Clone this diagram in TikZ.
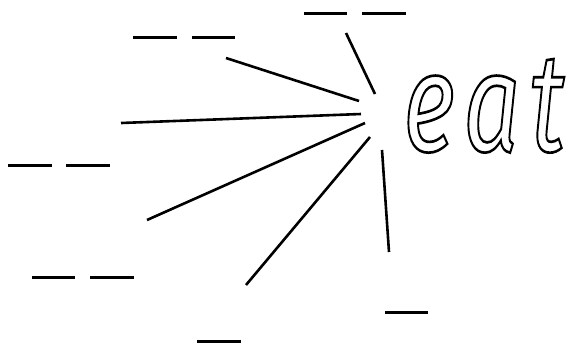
\documentclass[tikz,border=0pt]{standalone}
\usepackage{fontspec}
\newfontfamily\eatfont{Fira Sans}
\newcommand{\outlineon}{\special{pdf:code 1 Tr 1.9 w}}
\newcommand{\outlineoff}{\special{pdf:code 0 Tr}}
\tikzset{blank/.style={line width=3pt}, ray/.style={line width=2.6pt}}
\begin{document}
\begin{tikzpicture}[x=1pt,y=-1pt]
\useasboundingbox (0,0) rectangle (572,346);
% blanks
\draw[blank] (304,13) -- (347,13);
\draw[blank] (362,13) -- (406,13);
\draw[blank] (133,37) -- (177,37);
\draw[blank] (192,37) -- (235,37);
\draw[blank] (8,165) -- (52,165);
\draw[blank] (66,165) -- (110,165);
\draw[blank] (32,277) -- (75,277);
\draw[blank] (90,277) -- (134,277);
\draw[blank] (197,341) -- (241,341);
\draw[blank] (385,312) -- (428,312);
% rays
\coordinate (a1) at (346,33);  \coordinate (b1) at (375,94);
\coordinate (a2) at (226,58);  \coordinate (b2) at (359,101);
\coordinate (a3) at (121,123); \coordinate (b3) at (361,114);
\coordinate (a4) at (147,220); \coordinate (b4) at (365,123);
\coordinate (a5) at (246,285); \coordinate (b5) at (370,137);
\coordinate (a6) at (389,252); \coordinate (b6) at (382,150);
\foreach \i in {1,...,6} \draw[ray] (a\i) -- (b\i);
% word
\node[anchor=base west, inner sep=0] (eat) at (403,151)
  {\outlineon\scalebox{1}[1.4]{\eatfont\itshape\fontsize{100}{100}\selectfont\addfontfeatures{LetterSpace=9}eat}\outlineoff};
\end{tikzpicture}
\end{document}
